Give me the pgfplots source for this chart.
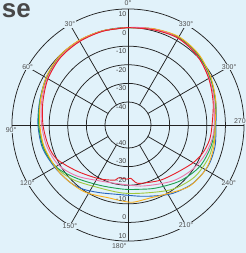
\documentclass[border=0pt]{standalone}
\usepackage{fontspec}
\setmainfont{Liberation Sans}
\usepackage{pgfplots}
\usepackage{pgfplotstable}
\usepgfplotslibrary{polar}
\pgfplotsset{compat=1.18}
\definecolor{bgc}{RGB}{225,242,250}
\definecolor{gridc}{RGB}{35,35,35}
\definecolor{labc}{RGB}{80,80,80}
\definecolor{cred}{RGB}{232,30,40}
\definecolor{cpink}{RGB}{236,120,170}
\definecolor{cgreen}{RGB}{30,160,80}
\definecolor{clgreen}{RGB}{160,200,60}
\definecolor{cblue}{RGB}{40,100,190}
\definecolor{corange}{RGB}{250,176,30}
\pgfplotstableread[row sep=\\]{
t db\\ 0 0\\ 15 0\\ 30 -0.1\\ 45 -0.3\\ 60 -1.6\\ 75 -3.2\\ 90 -4.0\\ 105 -4.8\\ 120 -6.9\\ 135 -8.6\\ 145 -10.3\\ 157 -12.9\\ 170 -14.6\\ 180 -14.6\\ 190 -13.5\\ 200 -11.8\\ 213 -8.5\\ 228 -5.5\\ 243 -4.0\\ 256 -4.2\\ 270 -5.1\\ 285 -3.6\\ 300 -1.3\\ 315 1.0\\ 330 2.0\\ 345 1.0\\ 360 0\\
}\blueT
\pgfplotstableread[row sep=\\]{
t db\\ 0 0\\ 15 0.1\\ 30 0.2\\ 45 -0.1\\ 60 -1.5\\ 75 -3.6\\ 90 -5.0\\ 105 -5.9\\ 125 -7.6\\ 146 -9.4\\ 166 -11.9\\ 176 -11.4\\ 184 -10.8\\ 197 -11.4\\ 209 -10.0\\ 225 -5.8\\ 241 -4.2\\ 256 -4.8\\ 270 -5.6\\ 285 -3.5\\ 300 -1.0\\ 315 1.4\\ 330 2.4\\ 345 1.2\\ 360 0\\
}\orangeT
\pgfplotstableread[row sep=\\]{
t db\\ 0 0\\ 15 0\\ 30 -0.1\\ 45 -0.4\\ 60 -1.8\\ 75 -3.4\\ 90 -4.4\\ 105 -5.3\\ 120 -7.6\\ 135 -12.3\\ 155 -16.6\\ 176 -17.8\\ 190 -17.3\\ 204 -15.3\\ 223 -11.3\\ 240 -7.8\\ 256 -6.3\\ 270 -5.6\\ 285 -3.8\\ 300 -1.4\\ 315 0.9\\ 330 2.0\\ 345 1.0\\ 360 0\\
}\greenT
\pgfplotstableread[row sep=\\]{
t db\\ 0 0\\ 15 0\\ 30 -0.1\\ 45 -0.4\\ 60 -1.8\\ 75 -3.5\\ 90 -4.7\\ 105 -5.6\\ 120 -7.4\\ 135 -10.8\\ 156 -15.3\\ 176 -15.7\\ 195 -14.6\\ 215 -10.3\\ 232 -7.0\\ 248 -5.6\\ 262 -5.4\\ 270 -5.5\\ 285 -3.7\\ 300 -1.3\\ 315 1.0\\ 330 2.1\\ 345 1.0\\ 360 0\\
}\lgreenT
\pgfplotstableread[row sep=\\]{
t db\\ 0 0\\ 15 -0.1\\ 30 -0.3\\ 45 -0.8\\ 60 -2.3\\ 75 -4.3\\ 90 -6.0\\ 105 -7.3\\ 120 -9.3\\ 135 -13.6\\ 153 -18.7\\ 172 -20.4\\ 194 -18.6\\ 219 -13.8\\ 236 -10.2\\ 250 -7.8\\ 263 -6.3\\ 275 -5.8\\ 290 -3.6\\ 305 -1.2\\ 320 0.9\\ 335 1.6\\ 350 0.6\\ 360 0\\
}\pinkT
\pgfplotstableread[row sep=\\]{
t db\\ 0 0\\ 15 -0.2\\ 30 -0.5\\ 45 -1.1\\ 60 -2.7\\ 75 -5.0\\ 90 -6.7\\ 105 -8.2\\ 116 -10.1\\ 132 -15.4\\ 150 -19.3\\ 160 -21.0\\ 167 -22.0\\ 170 -23.6\\ 179 -23.3\\ 183 -23.7\\ 189 -20.7\\ 199 -19.7\\ 211 -17.9\\ 225 -15.9\\ 240 -11.9\\ 250 -9.4\\ 260 -7.8\\ 270 -7.2\\ 285 -5.0\\ 300 -2.3\\ 315 0.3\\ 330 1.5\\ 345 0.6\\ 360 0\\
}\redT
\begin{document}
\begin{tikzpicture}[x=1bp,y=1bp]
\useasboundingbox (-128,-128) rectangle (118,125);
\clip (-128,-128) rectangle (118,125);
\fill[bgc] (-128,-128) rectangle (118,125);
% title fragment
\node[anchor=base east, inner sep=0pt, text=labc!90!black, font=\fontsize{26}{26}\selectfont\bfseries] at (-97,108) {se};
% grid
\begin{scope}[draw=gridc, line width=0.75bp]
\foreach \r in {23.05,41.65,60.25,78.85,97.45,116.05} {\draw (0,0) circle[radius=\r];}
\draw (0,-116.05) -- (0,116.05);
\draw (-116.05,0) -- (116.05,0);
\foreach \a in {30,60,120,150,210,240,300,330} {\draw (\a+90:23.05) -- (\a+90:116.05);}
\end{scope}
\begin{polaraxis}[at={(0,0)}, anchor=center, width=232.1bp, height=232.1bp, scale only axis, hide axis, xmin=0, xmax=360, ymin=0, ymax=62.4, clip=false]
\addplot[cblue, line width=0.9bp, smooth, no markers] table[x expr=\thisrow{t}+90, y expr=\thisrow{db}+52.4] {\blueT};
\addplot[clgreen, line width=0.9bp, smooth, no markers] table[x expr=\thisrow{t}+90, y expr=\thisrow{db}+52.4] {\lgreenT};
\addplot[cgreen, line width=0.9bp, smooth, no markers] table[x expr=\thisrow{t}+90, y expr=\thisrow{db}+52.4] {\greenT};
\addplot[corange, line width=0.9bp, smooth, no markers] table[x expr=\thisrow{t}+90, y expr=\thisrow{db}+52.4] {\orangeT};
\addplot[cpink, line width=0.9bp, smooth, no markers] table[x expr=\thisrow{t}+90, y expr=\thisrow{db}+52.4] {\pinkT};
\addplot[cred, line width=0.9bp, smooth, no markers] table[x expr=\thisrow{t}+90, y expr=\thisrow{db}+52.4] {\redT};
\end{polaraxis}
% ring labels
\begin{scope}[font=\fontsize{7}{8}\selectfont, text=labc!80!black, inner sep=0pt]
\node[anchor=north east] at (-1.5,113.5) {10};
\node[anchor=north east] at (-1.5,95) {0};
\node[anchor=north east] at (-1.5,76.3) {-10};
\node[anchor=north east] at (-1.5,57.7) {-20};
\node[anchor=north east] at (-1.5,39.1) {-30};
\node[anchor=north east] at (-1.5,20.5) {-40};
\node[anchor=south east] at (-1.5,-20.5) {-40};
\node[anchor=south east] at (-1.5,-39.1) {-30};
\node[anchor=south east] at (-1.5,-57.7) {-20};
\node[anchor=south east] at (-1.5,-76.3) {-10};
\node[anchor=south east] at (-1.5,-95) {0};
\node[anchor=south east] at (-1.5,-113.5) {10};
\end{scope}
% angle labels
\begin{scope}[font=\fontsize{7}{8}\selectfont, text=labc, inner sep=0.6pt]
\node[fill=bgc] at (0,121.5) {0°};
\node[fill=bgc] at (120:116) {30°};
\node[fill=bgc] at (150:116) {60°};
\node[anchor=north west, fill=bgc] at (-123,-2) {90°};
\node[fill=bgc] at (210:116.3) {120°};
\node[fill=bgc] at (240:116.3) {150°};
\node[anchor=south east, inner sep=0.3pt] at (-1,-124) {180°};
\node[fill=bgc] at (300:116) {210°};
\node[fill=bgc] at (330:116.3) {240°};
\node[anchor=south west, fill=bgc, inner sep=0.4pt] at (105.5,1) {270};
\node[fill=bgc] at (30:116.8) {300°};
\node[fill=bgc] at (60:116) {330°};
\end{scope}
\end{tikzpicture}
\end{document}
